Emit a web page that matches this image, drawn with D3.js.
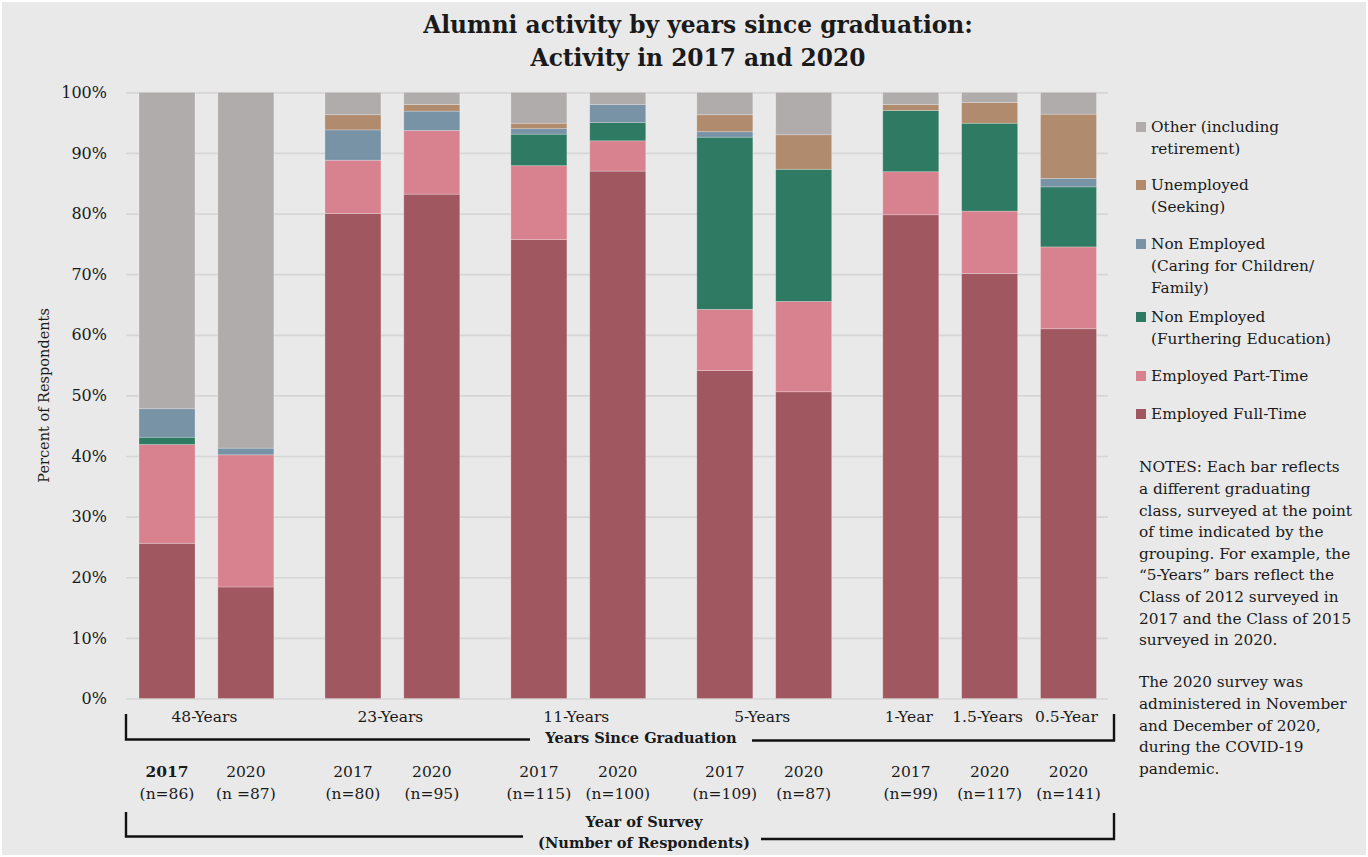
<!DOCTYPE html>
<html>
<head>
<meta charset="utf-8">
<script src="https://cdn.jsdelivr.net/npm/d3@7/dist/d3.min.js"></script>
<style>
  html, body { margin: 0; padding: 0; background: #ffffff; }
  svg { display: block; }
  text { font-family: "DejaVu Serif", "Liberation Serif", serif; fill: #1a1a1a; }
</style>
</head>
<body>
<svg id="chart" width="1368" height="857"></svg>
<script>
// ---- Data ---------------------------------------------------------------
// One entry per bar, left to right.
const yearsSince   = ["48-Years", "48-Years", "23-Years", "23-Years", "11-Years", "11-Years",
                      "5-Years", "5-Years", "1-Year", "1.5-Years", "0.5-Year"];
const cluster      = [0, 0, 1, 1, 2, 2, 3, 3, 4, 4, 4];
const surveyYear   = ["2017", "2020", "2017", "2020", "2017", "2020", "2017", "2020", "2017", "2020", "2020"];
const respondents  = ["(n=86)", "(n =87)", "(n=80)", "(n=95)", "(n=115)", "(n=100)",
                      "(n=109)", "(n=87)", "(n=99)", "(n=117)", "(n=141)"];

// Percent of respondents in each activity
const fullTime     = [25.6, 18.4, 80.0, 83.2, 75.7, 87.0, 54.1, 50.6, 79.8, 70.1, 61.0];
const partTime     = [16.3, 21.8,  8.8, 10.5, 12.2,  5.0, 10.1, 14.9,  7.1, 10.3, 13.5];
const furtherEdu   = [ 1.2,  0.0,  0.0,  0.0,  5.2,  3.0, 28.4, 21.8, 10.1, 14.5,  9.9];
const caring       = [ 4.7,  1.1,  5.0,  3.2,  0.9,  3.0,  0.9,  0.0,  0.0,  0.0,  1.4];
const unemployed   = [ 0.0,  0.0,  2.5,  1.1,  0.9,  0.0,  2.8,  5.7,  1.0,  3.4, 10.6];
const other        = [52.2, 58.7,  3.7,  2.0,  5.1,  2.0,  3.7,  7.0,  2.0,  1.7,  3.6];

const seriesKeys   = ["fullTime", "partTime", "furtherEdu", "caring", "unemployed", "other"];
const seriesColors = ["#a15760", "#d8828f", "#2f7a63", "#7892a6", "#b08b6e", "#b0acab"];
const legendLabels = [
  ["Other (including", "retirement)"],
  ["Unemployed", "(Seeking)"],
  ["Non Employed", "(Caring for Children/", "Family)"],
  ["Non Employed", "(Furthering Education)"],
  ["Employed Part-Time"],
  ["Employed Full-Time"]
];
const yTicks = [0, 10, 20, 30, 40, 50, 60, 70, 80, 90, 100];

const titleLines = ["Alumni activity by years since graduation:", "Activity in 2017 and 2020"];
const notesLines = [
  "NOTES: Each bar reflects", "a different graduating", "class, surveyed at the point",
  "of time indicated by the", "grouping. For example, the", "\u201c5-Years\u201d bars reflect the",
  "Class of 2012 surveyed in", "2017 and the Class of 2015", "surveyed in 2020."
];
const notesLines2 = [
  "The 2020 survey was", "administered in November", "and December of 2020,",
  "during the COVID-19", "pandemic."
];

// ---- Build table ----------------------------------------------------------
const columns = { fullTime, partTime, furtherEdu, caring, unemployed, other };
const table = yearsSince.map((g, i) => {
  const row = { i, group: g };
  seriesKeys.forEach(k => row[k] = columns[k][i]);
  return row;
});
const stacked = d3.stack().keys(seriesKeys)(table);

// ---- Layout -----------------------------------------------------------------
const svg = d3.select("#chart");
const W = 1368, H = 857;
const plotLeft = 126, plotRight = 1108, plotTop = 92.3, plotBottom = 698.5;
const clusterGap = 0.358;   // extra space between clusters, in bar slots
const barWidth = 56;

svg.append("rect").attr("x", 0).attr("y", 0).attr("width", W).attr("height", H).attr("fill", "#ffffff");
svg.append("rect").attr("x", 2).attr("y", 2).attr("width", W - 4).attr("height", H - 4).attr("fill", "#e9e9e9");

const slot = i => i + cluster[i] * clusterGap;
const lastSlot = slot(yearsSince.length - 1);
const x = d3.scaleLinear().domain([0, lastSlot]).range([167, 1068.5]);
const y = d3.scaleLinear().domain([0, 100]).range([plotBottom, plotTop]);

// Title
svg.append("g").selectAll("text").data(titleLines).join("text")
  .attr("x", 698).attr("y", (d, i) => 25 + i * 33).attr("dy", "0.35em")
  .attr("text-anchor", "middle").attr("font-size", 23.3).attr("font-weight", "bold")
  .text(d => d);

// Gridlines and y tick labels
const yAxis = d3.axisLeft(y).tickValues(yTicks).tickFormat(d => d + "%")
  .tickSize(-(plotRight - plotLeft)).tickPadding(19);
const gy = svg.append("g").attr("transform", `translate(${plotLeft},0)`).call(yAxis);
gy.select(".domain").remove();
gy.selectAll(".tick line").attr("stroke", "#d6d6d6").attr("stroke-width", 1.7);
gy.selectAll(".tick text").attr("font-size", 16).attr("fill", "#1a1a1a")
  .attr("font-family", "DejaVu Serif, Liberation Serif, serif");

// Y axis title
svg.append("text")
  .attr("transform", `translate(44,${(plotTop + plotBottom) / 2}) rotate(-90)`)
  .attr("dy", "0.35em").attr("text-anchor", "middle").attr("font-size", 14.5)
  .text("Percent of Respondents");

// Stacked bars
svg.append("g").selectAll("g").data(stacked).join("g")
  .attr("fill", (d, i) => seriesColors[i])
  .selectAll("rect").data(d => d.filter(s => s[1] - s[0] > 0)).join("rect")
  .attr("x", d => x(slot(d.data.i)) - barWidth / 2)
  .attr("width", barWidth)
  .attr("y", d => y(d[1]))
  .attr("height", d => y(d[0]) - y(d[1]))
  .attr("stroke", "rgba(255,255,255,0.3)").attr("stroke-width", 0.8);

// Years-since-graduation labels, centred on their bars
const groupLabels = [];
yearsSince.forEach((g, i) => {
  const last = groupLabels[groupLabels.length - 1];
  if (last && last.label === g) last.idx.push(i);
  else groupLabels.push({ label: g, idx: [i] });
});
svg.append("g").selectAll("text").data(groupLabels).join("text")
  .attr("x", d => d3.mean(d.idx, i => x(slot(i))) - 2)
  .attr("y", 717).attr("dy", "0.35em").attr("text-anchor", "middle").attr("font-size", 15.5)
  .text(d => d.label);

// Survey year and respondent counts
const gs = svg.append("g");
gs.selectAll("text.yr").data(surveyYear).join("text").attr("class", "yr")
  .attr("x", (d, i) => x(slot(i))).attr("y", 772).attr("dy", "0.35em")
  .attr("text-anchor", "middle").attr("font-size", 15.5)
  .attr("font-weight", (d, i) => i === 0 ? "bold" : "normal")
  .text(d => d);
gs.selectAll("text.n").data(respondents).join("text").attr("class", "n")
  .attr("x", (d, i) => x(slot(i))).attr("y", 794).attr("dy", "0.35em")
  .attr("text-anchor", "middle").attr("font-size", 15.5)
  .text(d => d);

// Brackets below the axis
const bracket = svg.append("g").attr("stroke", "#111").attr("stroke-width", 2.4).attr("fill", "none");
bracket.append("path").attr("d", "M126,714 V739.5 H530");
bracket.append("path").attr("d", "M752,740.5 H1114 V714");
svg.append("text").attr("x", 641).attr("y", 738).attr("dy", "0.35em").attr("text-anchor", "middle")
  .attr("font-size", 14.6).attr("font-weight", "bold").text("Years Since Graduation");

bracket.append("path").attr("d", "M126,812 V836.5 H523");
bracket.append("path").attr("d", "M761,839 H1114 V813");
svg.append("text").attr("x", 644).attr("y", 822).attr("dy", "0.35em").attr("text-anchor", "middle")
  .attr("font-size", 14.6).attr("font-weight", "bold").text("Year of Survey");
svg.append("text").attr("x", 644).attr("y", 843).attr("dy", "0.35em").attr("text-anchor", "middle")
  .attr("font-size", 14.6).attr("font-weight", "bold").text("(Number of Respondents)");

// Legend (top entry is the top of the stack)
const legendRowY = [127, 185, 244, 317, 376, 414];
const legendColors = seriesColors.slice().reverse();
const lg = svg.append("g").selectAll("g").data(legendLabels).join("g")
  .attr("transform", (d, i) => `translate(1136,${legendRowY[i]})`);
lg.append("rect").attr("x", 0).attr("y", -5).attr("width", 10).attr("height", 10)
  .attr("fill", (d, i) => legendColors[i]);
lg.selectAll("text").data(d => d).join("text")
  .attr("x", 15).attr("y", (d, j) => j * 21.7).attr("dy", "0.35em").attr("font-size", 15.3)
  .text(d => d);

// Notes
const notes = svg.append("g").attr("transform", "translate(1139,0)");
notes.selectAll("text.a").data(notesLines).join("text").attr("class", "a")
  .attr("x", 0).attr("y", (d, i) => 467 + i * 21.6).attr("dy", "0.35em").attr("font-size", 15.3)
  .text(d => d);
notes.selectAll("text.b").data(notesLines2).join("text").attr("class", "b")
  .attr("x", 0).attr("y", (d, i) => 682 + i * 21.6).attr("dy", "0.35em").attr("font-size", 15.3)
  .text(d => d);
</script>
</body>
</html>
